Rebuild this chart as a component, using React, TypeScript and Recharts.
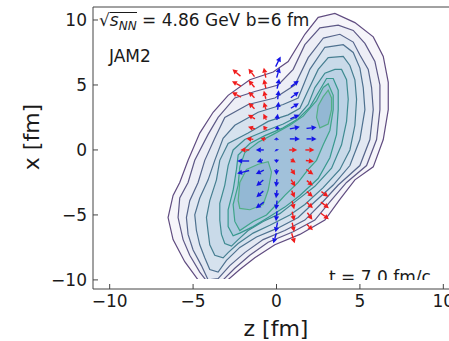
import { ComposedChart, Scatter, XAxis, YAxis, ReferenceLine, Curve } from 'recharts';

// axis ticks (fm)
const zTicks = [-10, -5, 0, 5, 10];
const xTicks = [-10, -5, 0, 5, 10];

// density contour levels, outermost first, points as [z, x] in fm
const level1 = [[2.5,10.2],[3.5,10.5],[4.7,9.8],[5.8,8.7],[6.4,7.2],[6.7,5.2],[6.7,3.1],[6.4,0.8],[5.8,-1.3],[4.7,-2.3],[3.8,-3.8],[2.9,-5.4],[1.4,-6.5],[-0.1,-7.3],[-1.3,-8.3],[-2.2,-9.2],[-3.1,-10.2],[-4.0,-10.9],[-4.7,-10.0],[-5.5,-8.6],[-6.2,-6.9],[-6.5,-5.2],[-6.2,-3.5],[-5.8,-2.5],[-5.3,-0.8],[-4.6,1.3],[-3.8,2.9],[-2.9,4.2],[-1.6,5.4],[-0.2,6.0],[0.7,6.8],[1.7,8.9]];
const level2 = [[2.6,9.4],[3.7,9.6],[4.6,9.2],[5.3,8.2],[5.9,6.8],[6.2,5.0],[6.2,3.1],[6.0,0.8],[5.4,-1.2],[4.2,-2.5],[3.2,-4.0],[2.3,-5.4],[1.0,-6.3],[-0.5,-7.1],[-1.6,-8.1],[-2.5,-9.1],[-3.2,-10.0],[-4.0,-10.4],[-4.6,-9.4],[-5.2,-8.1],[-5.6,-6.9],[-5.9,-5.2],[-5.8,-3.7],[-5.3,-2.5],[-4.9,-0.8],[-4.1,1.2],[-3.5,2.5],[-2.5,4.0],[-1.3,4.5],[0.1,5.0],[1.0,6.2],[1.7,8.1]];
const level3 = [[2.8,8.6],[3.8,8.9],[4.6,8.3],[5.0,7.3],[5.5,6.2],[5.7,4.8],[5.8,3.1],[5.6,0.8],[5.0,-1.2],[3.7,-2.7],[2.7,-4.1],[1.7,-5.4],[0.5,-6.2],[-0.8,-6.9],[-1.9,-7.9],[-2.8,-8.9],[-3.5,-9.9],[-4.1,-10.0],[-4.5,-8.9],[-5.0,-7.7],[-5.3,-6.5],[-5.4,-5.2],[-5.2,-3.9],[-4.7,-2.5],[-4.3,-0.8],[-3.7,0.9],[-3.1,2.5],[-1.7,3.5],[-0.1,4.0],[1.1,5.0],[1.9,7.1]];
const level4 = [[2.9,7.9],[4.0,8.1],[4.6,7.5],[5.0,6.3],[5.2,4.8],[5.3,3.1],[5.0,0.8],[4.4,-1.2],[3.4,-2.7],[2.2,-4.1],[1.3,-5.2],[0.1,-6.0],[-1.2,-6.7],[-2.2,-7.5],[-3.0,-8.5],[-3.5,-9.4],[-4.0,-9.2],[-4.3,-8.3],[-4.6,-7.3],[-4.8,-6.2],[-4.9,-5.0],[-4.6,-3.7],[-4.1,-2.3],[-3.7,-0.8],[-3.2,0.9],[-2.5,1.9],[-1.1,2.9],[0.4,3.5],[1.3,4.0],[2.0,6.2]];
const level5 = [[3.1,7.1],[4.0,7.2],[4.4,6.5],[4.7,5.4],[4.8,3.9],[4.7,1.9],[4.4,0.0],[3.8,-1.5],[2.8,-2.9],[1.7,-4.2],[0.8,-5.0],[-0.4,-5.8],[-1.4,-6.4],[-2.3,-7.2],[-2.9,-7.9],[-3.2,-8.3],[-3.7,-8.1],[-4.0,-7.3],[-4.1,-6.3],[-4.2,-5.2],[-4.0,-3.9],[-3.6,-2.3],[-3.4,-0.8],[-2.9,0.5],[-1.7,1.3],[-0.5,2.2],[0.7,2.7],[1.4,3.2],[1.9,4.6],[2.5,6.2]];
const level6 = [[3.5,6.2],[3.9,6.2],[4.2,5.4],[4.3,3.9],[4.2,2.2],[3.9,0.4],[3.3,-1.4],[2.3,-2.8],[1.2,-3.9],[0.2,-4.9],[-0.8,-5.5],[-1.7,-6.2],[-2.3,-6.9],[-2.7,-7.4],[-3.1,-7.2],[-3.3,-6.5],[-3.4,-5.4],[-3.4,-4.1],[-3.1,-2.7],[-2.9,-1.2],[-2.6,0.0],[-1.9,0.8],[-0.8,1.4],[0.4,2.0],[1.3,2.6],[1.9,3.5],[2.3,4.8],[2.9,5.9]];
const level7 = [[3.0,5.5],[3.4,5.5],[3.7,4.6],[3.7,3.1],[3.6,1.2],[3.2,-0.6],[2.5,-2.2],[1.4,-3.5],[0.5,-4.4],[-0.5,-5.2],[-1.4,-5.9],[-2.2,-6.4],[-2.6,-6.6],[-2.9,-5.9],[-2.9,-4.6],[-2.6,-3.1],[-2.4,-1.5],[-2.3,-0.4],[-1.6,0.5],[-0.7,1.1],[0.4,1.7],[1.3,2.4],[2.0,3.3],[2.5,4.4]];
const level8 = [[2.8,4.8],[3.1,5.1],[3.4,4.2],[3.4,3.1],[3.2,1.5],[2.8,0.4],[2.4,-0.8],[1.9,-1.5],[1.3,-2.5],[0.5,-3.5],[0.0,-4.2],[-0.6,-5.0],[-1.4,-5.5],[-2.2,-6.2],[-2.5,-5.5],[-2.6,-4.2],[-2.3,-2.7],[-2.2,-1.3],[-1.9,-0.2],[-1.1,0.6],[-0.2,1.2],[0.8,1.9],[1.6,2.6],[2.4,3.8]];
const islandUpper = [[2.8,4.1],[3.1,4.6],[3.3,4.0],[3.3,3.1],[3.1,2.0],[2.6,1.7],[2.4,2.5],[2.5,3.4]];
const islandLower = [[-1.1,-1.1],[-0.5,-0.9],[-0.3,-1.7],[-0.5,-3.1],[-0.8,-4.2],[-1.6,-4.6],[-2.2,-4.5],[-2.3,-3.9],[-2.2,-2.5],[-1.8,-1.5]];

// flow arrows [z, x, u, v]
const redArrows = [
  [-2.4,5.95,-0.8,0.7],[-1.5,5.95,-0.6,0.8],[-0.7,5.95,-0.2,1.0],
  [-2.4,5.1,-0.9,0.5],[-1.5,5.1,-0.6,0.7],[-0.7,5.1,-0.2,0.9],
  [-2.4,4.25,-0.9,0.5],[-1.5,4.25,-0.6,0.6],[-0.7,4.25,-0.2,0.8],
  [-1.5,3.4,-0.6,0.6],[-0.7,3.4,-0.2,0.7],
  [-1.5,2.55,-0.7,0.4],[-0.7,2.55,-0.3,0.6],
  [-1.5,1.7,-0.7,0.2],[-0.7,1.7,-0.3,0.4],
  [-1.6,0.85,-0.7,0.1],[-0.8,0.85,-0.5,0.1],
  [-1.9,0,-0.9,0],[1.0,0,0.8,0],[2.0,0,0.9,0],
  [1.0,-0.85,0.5,-0.3],[2.0,-0.85,0.8,-0.1],
  [1.0,-1.7,0.4,-0.6],[2.0,-1.7,0.7,-0.5],
  [1.0,-2.55,0.4,-0.7],[2.0,-2.55,0.6,-0.5],
  [1.0,-3.4,0.3,-0.7],[2.0,-3.4,0.6,-0.5],[2.9,-3.4,0.7,-0.5],
  [1.0,-4.25,0.2,-0.8],[2.0,-4.25,0.6,-0.6],[2.9,-4.25,0.8,-0.6],
  [1.0,-5.1,0.2,-0.9],[2.0,-5.1,0.5,-0.7],[2.9,-5.1,0.8,-0.6],
  [1.0,-5.95,0.2,-0.9],[2.0,-5.95,0.6,-0.6],
  [1.0,-6.8,0.3,-1.0],
];
const blueArrows = [
  [0.1,6.8,0.5,1.0],
  [0.1,5.95,0.3,1.0],
  [0.1,5.1,0.2,1.0],[1.1,5.1,0.8,0.6],
  [0.1,4.25,0.1,0.9],[1.1,4.25,0.8,0.6],
  [0.1,3.4,0.1,0.8],[1.1,3.4,0.8,0.5],
  [0.05,2.55,0.1,0.6],[1.1,2.55,0.9,0.4],
  [0.05,1.7,0.0,0.4],[1.1,1.7,1.0,0.2],[2.1,1.7,1.0,0.1],
  [0.0,0.85,0.0,0.3],[1.1,0.85,1.0,0.0],[2.1,0.85,1.0,0.0],
  [-1.0,0,-0.8,0],[0.0,0,-0.1,0.2],
  [-2.0,-0.85,-1.2,0],[-1.0,-0.85,-0.6,-0.2],[0.0,-0.85,0.0,-0.4],
  [-2.0,-1.7,-1.2,-0.3],[-1.0,-1.7,-0.8,-0.4],[0.0,-1.7,0.0,-0.6],
  [-1.0,-2.55,-0.7,-0.6],[0.0,-2.55,-0.1,-0.8],
  [-1.0,-3.4,-0.7,-0.6],[0.0,-3.4,-0.1,-0.8],
  [-1.0,-4.25,-0.8,-0.6],[0.0,-4.25,-0.1,-0.9],
  [0.0,-5.1,-0.1,-1.0],
  [0.0,-5.95,-0.2,-1.0],
  [-0.1,-6.8,-0.3,-1.0],
];

const toPts = (arr: number[][]) => arr.map(([z, x]) => ({ z, x }));
const toArrows = (arr: number[][]) => arr.map(([z, x, u, v]) => ({ z, x, u, v }));

const contours = [
  { pts: level1, fill: '#f6f5fa', stroke: '#604c80' },
  { pts: level2, fill: '#edeef6', stroke: '#5d5886' },
  { pts: level3, fill: '#e2e8f2', stroke: '#56658b' },
  { pts: level4, fill: '#d6e2ee', stroke: '#4e718f' },
  { pts: level5, fill: '#c9dae9', stroke: '#467e91' },
  { pts: level6, fill: '#bcd2e5', stroke: '#3e8b91' },
  { pts: level7, fill: '#aecae0', stroke: '#37988e' },
  { pts: level8, fill: '#a1c1da', stroke: '#3ea48a' },
  { pts: islandUpper, fill: '#93b8d4', stroke: '#52af85' },
  { pts: islandLower, fill: '#93b8d4', stroke: '#52af85' },
];

const ARROW_PX = 10;

const Arrow = (props: any) => {
  const { cx, cy, payload, color } = props;
  const dx = payload.u * ARROW_PX;
  const dy = -payload.v * ARROW_PX;
  const len = Math.hypot(dx, dy);
  if (!len) return <g />;
  const ux = dx / len;
  const uy = dy / len;
  const x1 = cx + dx / 2;
  const y1 = cy + dy / 2;
  const hl = Math.min(5, len * 0.8);
  const hw = 2.6;
  const bx = x1 - ux * hl;
  const by = y1 - uy * hl;
  return (
    <g>
      <line x1={cx - dx / 2} y1={cy - dy / 2} x2={bx} y2={by} stroke={color} strokeWidth={1.4} />
      <polygon
        points={`${x1},${y1} ${bx - uy * hw},${by + ux * hw} ${bx + uy * hw},${by - ux * hw}`}
        fill={color}
      />
    </g>
  );
};

const fmt = (v: number) => (v < 0 ? `\u2212${Math.abs(v)}` : String(v));

const font = '"DejaVu Sans", sans-serif';

export default function App() {
  return (
    <div style={{ position: 'absolute', left: 0, top: 0, width: 449, height: 341, overflow: 'hidden', background: '#fff', fontFamily: font }}>
      <svg width={0} height={0} style={{ position: 'absolute' }}>
        <defs>
          <clipPath id="plotcut">
            <rect x={0} y={0} width={470} height={279} />
          </clipPath>
        </defs>
      </svg>
      <ComposedChart width={470} height={341} margin={{ top: 7, right: 10, left: 33, bottom: 22 }}>
        <XAxis
          type="number"
          dataKey="z"
          domain={[-11, 11]}
          ticks={zTicks}
          interval={0}
          allowDataOverflow
          height={30}
          tickSize={-5}
          tickMargin={11}
          tickFormatter={fmt}
          tick={{ fill: '#1a1a1a', fontSize: 17, fontFamily: font }}
          axisLine={{ stroke: '#444' }}
          tickLine={{ stroke: '#444' }}
        />
        <YAxis
          type="number"
          dataKey="x"
          domain={[-10.7, 11]}
          ticks={xTicks}
          interval={0}
          allowDataOverflow
          width={60}
          tickSize={-5}
          tickMargin={11}
          tickFormatter={fmt}
          tick={{ fill: '#1a1a1a', fontSize: 17, fontFamily: font }}
          axisLine={{ stroke: '#444' }}
          tickLine={{ stroke: '#444' }}
        />
        {contours.map((c, i) => (
          <Scatter
            key={`lev-${i}`}
            data={toPts(c.pts)}
            isAnimationActive={false}
            shape={() => <g />}
            line={(lp: any) => (
              <g clipPath="url(#plotcut)">
                <Curve points={lp.points} type="linearClosed" stroke={c.stroke} strokeWidth={1.2} fill={c.fill} />
              </g>
            )}
          />
        ))}
        <Scatter
          data={toArrows(redArrows)}
          isAnimationActive={false}
          shape={(p: any) => <Arrow {...p} color="#f01c1c" />}
        />
        <Scatter
          data={toArrows(blueArrows)}
          isAnimationActive={false}
          shape={(p: any) => <Arrow {...p} color="#1414e6" />}
        />
        <ReferenceLine y={11} stroke="#444" ifOverflow="visible" />
      </ComposedChart>
      <svg width={449} height={341} style={{ position: 'absolute', left: 0, top: 0, pointerEvents: 'none' }}>
        <defs>
          <clipPath id="tclip">
            <rect x={300} y={260} width={149} height={20} />
          </clipPath>
        </defs>
        <text x={109} y={62} fontSize={17} fontFamily={font} fill="#1a1a1a">JAM2</text>
        <text x={329} y={283} fontSize={17} fontFamily={font} fill="#1a1a1a" clipPath="url(#tclip)">t = 7.0 fm/c</text>
        <text x={31} y={137} fontSize={22} fontFamily={font} fill="#1a1a1a" textAnchor="middle" dominantBaseline="central" transform="rotate(-90, 31, 137)">x [fm]</text>
        <text x={276} y={336} fontSize={22} fontFamily={font} fill="#1a1a1a" textAnchor="middle">z [fm]</text>
      </svg>
      <div style={{ position: 'absolute', left: 99, top: 12, fontSize: 17, lineHeight: '17px', color: '#1a1a1a', whiteSpace: 'nowrap' }}>
        √<span style={{ position: 'relative', fontStyle: 'italic' }}>
          s<span style={{ fontSize: 12, verticalAlign: '-4px' }}>NN</span>
          <span style={{ position: 'absolute', left: 0, right: 0, top: 2, borderTop: '1.2px solid #1a1a1a' }} />
        </span> = 4.86 GeV b=6 fm
      </div>
    </div>
  );
}
